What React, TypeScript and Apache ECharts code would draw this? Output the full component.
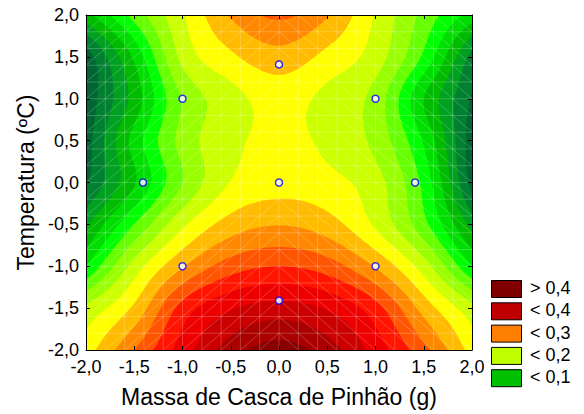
import React, { useEffect, useRef } from "react";
import * as echarts from "echarts";

// Grid nodes of the fitted response surface
const xGrid = [-2, -1.5, -1, -0.5, 0, 0.5, 1, 1.5, 2];
const yGrid = [2, 1.5, 1, 0.5, 0, -0.5, -1, -1.5, -2];
// z values: one row per yGrid entry, one column per xGrid entry
const zRows = [
  [0.09, 0.16, 0.2225, 0.2775, 0.305, 0.2775, 0.2225, 0.1675, 0.115],
  [0.01, 0.105, 0.2075, 0.245, 0.265, 0.2425, 0.2125, 0.145, 0.04],
  [0.0075, 0.085, 0.1775, 0.215, 0.235, 0.2175, 0.19, 0.1, 0.0225],
  [0.0125, 0.11, 0.184, 0.219, 0.23, 0.22, 0.1925, 0.1225, 0.01],
  [0.0225, 0.0975, 0.175, 0.226, 0.239, 0.2325, 0.21, 0.1425, 0.015],
  [0.07, 0.15, 0.22, 0.261, 0.274, 0.261, 0.221, 0.158, 0.065],
  [0.125, 0.21, 0.2725, 0.3125, 0.325, 0.3125, 0.2725, 0.212, 0.125],
  [0.205, 0.255, 0.335, 0.3725, 0.385, 0.3725, 0.335, 0.265, 0.208],
  [0.2375, 0.3, 0.3625, 0.4125, 0.4375, 0.4125, 0.365, 0.3075, 0.24],
];

// Experimental design points
const designX = [-1, 1, -1, 1, -1.41, 1.41, 0, 0, 0];
const designY = [-1, -1, 1, 1, 0, 0, -1.41, 1.41, 0];

// Contour levels and band colours (bandColors[k+1] is used above contourLevels[k])
const contourLevels = [
  0, 0.025, 0.05, 0.075, 0.1, 0.125, 0.15, 0.175, 0.2, 0.225, 0.25, 0.275, 0.3, 0.325,
  0.35, 0.375, 0.4, 0.425, 0.45,
];
const bandColors = [
  "#00552b", "#006633", "#008030", "#00a020", "#00bb00", "#00dd00", "#00ff00",
  "#66ff00", "#99ff00", "#ccff00", "#ffff00", "#ffbb00", "#ff8800", "#ff5500",
  "#ff1500", "#ee0000", "#cc0000", "#aa0000", "#880000", "#700000",
];

const legendLabels = ["> 0,4", "< 0,4", "< 0,3", "< 0,2", "< 0,1"];
const legendColors = ["#800000", "#c00000", "#ff8000", "#c0ff00", "#00c000"];

const axisMin = -2;
const axisMax = 2;
const axisStep = 0.5;

const FONT = "'Liberation Sans', Arial, Helvetica, sans-serif";

const nx = xGrid.length;
const ny = yGrid.length;

const getZ = (r: number, c: number): number => {
  if (r < 0) return 2 * getZ(0, c) - getZ(1, c);
  if (r > ny - 1) return 2 * getZ(ny - 1, c) - getZ(ny - 2, c);
  if (c < 0) return 2 * getZ(r, 0) - getZ(r, 1);
  if (c > nx - 1) return 2 * getZ(r, nx - 1) - getZ(r, nx - 2);
  return zRows[r][c];
};

const catmull = (p0: number, p1: number, p2: number, p3: number, t: number) =>
  0.5 *
  (2 * p1 +
    (-p0 + p2) * t +
    (2 * p0 - 5 * p1 + 4 * p2 - p3) * t * t +
    (-p0 + 3 * p1 - 3 * p2 + p3) * t * t * t);

const surface = (x: number, y: number): number => {
  const fc = (x - xGrid[0]) / (xGrid[1] - xGrid[0]);
  const fr = (yGrid[0] - y) / (yGrid[0] - yGrid[1]);
  const c = Math.min(nx - 2, Math.max(0, Math.floor(fc)));
  const r = Math.min(ny - 2, Math.max(0, Math.floor(fr)));
  const tc = fc - c;
  const tr = fr - r;
  const rows: number[] = [];
  for (let k = -1; k <= 2; k++) {
    rows.push(catmull(getZ(r + k, c - 1), getZ(r + k, c), getZ(r + k, c + 1), getZ(r + k, c + 2), tc));
  }
  return catmull(rows[0], rows[1], rows[2], rows[3], tr);
};

type P3 = number[];
const clip = (pts: P3[], L: number): P3[] => {
  const out: P3[] = [];
  for (let a = 0; a < pts.length; a++) {
    const P = pts[a];
    const Q = pts[(a + 1) % pts.length];
    const pin = P[2] >= L;
    const qin = Q[2] >= L;
    if (pin) out.push(P);
    if (pin !== qin) {
      const t = (L - P[2]) / (Q[2] - P[2]);
      out.push([P[0] + t * (Q[0] - P[0]), P[1] + t * (Q[1] - P[1]), L]);
    }
  }
  return out;
};

const renderContours = (params: any, api: any) => {
  if (params.dataIndex !== 0) return null;
  const N = 80;
  const x0 = xGrid[0];
  const x1 = xGrid[nx - 1];
  const y0 = yGrid[0];
  const y1 = yGrid[ny - 1];
  const fx: number[] = [];
  const fy: number[] = [];
  const px: number[] = [];
  const py: number[] = [];
  for (let i = 0; i <= N; i++) {
    const x = x0 + ((x1 - x0) * i) / N;
    fx.push(x);
    px.push(api.coord([x, 0])[0]);
  }
  for (let j = 0; j <= N; j++) {
    const y = y0 + ((y1 - y0) * j) / N;
    fy.push(y);
    py.push(api.coord([0, y])[1]);
  }
  const Z = fy.map((y) => fx.map((x) => surface(x, y)));
  const f = (v: number) => v.toFixed(2);
  const children: any[] = [];
  children.push({
    type: "rect",
    shape: { x: px[0], y: py[0], width: px[N] - px[0], height: py[N] - py[0] },
    style: { fill: bandColors[0] },
  });
  contourLevels.forEach((L, k) => {
    let d = "";
    for (let j = 0; j < N; j++) {
      let run = -1;
      for (let i = 0; i <= N; i++) {
        const full =
          i < N && Z[j][i] >= L && Z[j][i + 1] >= L && Z[j + 1][i] >= L && Z[j + 1][i + 1] >= L;
        if (full) {
          if (run < 0) run = i;
          continue;
        }
        if (run >= 0) {
          d += `M${f(px[run])} ${f(py[j])}H${f(px[i])}V${f(py[j + 1])}H${f(px[run])}Z`;
          run = -1;
        }
        if (i === N) break;
        const A = [px[i], py[j], Z[j][i]];
        const B = [px[i + 1], py[j], Z[j][i + 1]];
        const C = [px[i + 1], py[j + 1], Z[j + 1][i + 1]];
        const D = [px[i], py[j + 1], Z[j + 1][i]];
        const tris = [
          [A, B, C],
          [A, C, D],
        ];
        for (const tri of tris) {
          const poly = clip(tri, L);
          if (poly.length >= 3) d += "M" + poly.map((p) => f(p[0]) + " " + f(p[1])).join("L") + "Z";
        }
      }
    }
    if (d) children.push({ type: "path", shape: { pathData: d }, style: { fill: bandColors[k + 1] } });
  });

  // faint surface mesh
  const M = 20;
  const mx: number[] = [];
  const my: number[] = [];
  for (let i = 0; i <= M; i++) mx.push(api.coord([x0 + ((x1 - x0) * i) / M, 0])[0]);
  for (let j = 0; j <= M; j++) my.push(api.coord([0, y0 + ((y1 - y0) * j) / M])[1]);
  let m = "";
  for (let i = 1; i < M; i++) m += `M${f(mx[i])} ${f(my[0])}V${f(my[M])}`;
  for (let j = 1; j < M; j++) m += `M${f(mx[0])} ${f(my[j])}H${f(mx[M])}`;
  for (let i = 0; i < M; i++) {
    for (let j = 0; j < M; j++) {
      if (i < M / 2) m += `M${f(mx[i])} ${f(my[j + 1])}L${f(mx[i + 1])} ${f(my[j])}`;
      else m += `M${f(mx[i])} ${f(my[j])}L${f(mx[i + 1])} ${f(my[j + 1])}`;
    }
  }
  children.push({
    type: "path",
    shape: { pathData: m },
    style: { fill: "none", stroke: "rgba(255,255,255,0.22)", lineWidth: 1 },
  });
  return { type: "group", children };
};

const fmt = (v: number) => v.toFixed(1).replace(".", ",");

export default function App() {
  const ref = useRef<HTMLDivElement>(null);
  useEffect(() => {
    if (!ref.current) return;
    const chart = echarts.init(ref.current, undefined, { renderer: "svg" });
    const baseAxis = {
      type: "value" as const,
      min: axisMin,
      max: axisMax,
      interval: axisStep,
      z: 10,
      splitLine: { show: false },
      axisLine: { show: true, onZero: false, lineStyle: { color: "#000", width: 1 } },
      axisTick: { show: true, inside: true, length: 4, lineStyle: { color: "#000" } },
    };
    chart.setOption({
      animation: false,
      backgroundColor: "#fff",
      grid: { left: 86, top: 15, width: 386, height: 335, containLabel: false, outerBoundsMode: "none" },
      xAxis: [
        {
          ...baseAxis,
          position: "bottom",
          name: "Massa de Casca de Pinhão (g)",
          nameLocation: "middle",
          nameGap: 35,
          nameTextStyle: { fontFamily: FONT, fontSize: 23, color: "#000" },
          axisLabel: {
            formatter: fmt,
            fontFamily: FONT,
            fontSize: 18,
            color: "#000",
            margin: 8,
            showMinLabel: true,
            showMaxLabel: true,
          },
        },
        { ...baseAxis, position: "top", axisLabel: { show: false } },
      ],
      yAxis: [
        {
          ...baseAxis,
          position: "left",
          name: "Temperatura (ºC)",
          nameLocation: "middle",
          nameGap: 47,
          nameTextStyle: { fontFamily: FONT, fontSize: 23, color: "#000" },
          axisLabel: {
            formatter: fmt,
            fontFamily: FONT,
            fontSize: 18,
            color: "#000",
            margin: 7,
            showMinLabel: true,
            showMaxLabel: true,
          },
        },
        { ...baseAxis, position: "right", axisLabel: { show: false } },
      ],
      series: [
        {
          type: "custom",
          xAxisIndex: 0,
          yAxisIndex: 0,
          z: 1,
          silent: true,
          clip: true,
          data: [[0, 0]],
          renderItem: renderContours,
        },
        {
          type: "scatter",
          xAxisIndex: 0,
          yAxisIndex: 0,
          z: 5,
          symbol: "circle",
          symbolSize: 7,
          itemStyle: { color: "#ffffff", borderColor: "#0000ff", borderWidth: 1.5 },
          data: designX.map((x, i) => [x, designY[i]]),
        },
      ],
      graphic: legendLabels.flatMap((label, i) => [
        {
          type: "rect",
          left: 491,
          top: 280 + i * 22.3,
          shape: { width: 30, height: 17 },
          style: { fill: legendColors[i], stroke: "#000", lineWidth: 1 },
        },
        {
          type: "text",
          left: 530,
          top: 279 + i * 22.3,
          style: { text: label, font: `18px ${FONT}`, fill: "#000" },
        },
      ]),
    });
    return () => chart.dispose();
  }, []);
  return (
    <div
      ref={ref}
      style={{ position: "fixed", left: 0, top: 0, width: 584, height: 414, background: "#fff" }}
    />
  );
}
